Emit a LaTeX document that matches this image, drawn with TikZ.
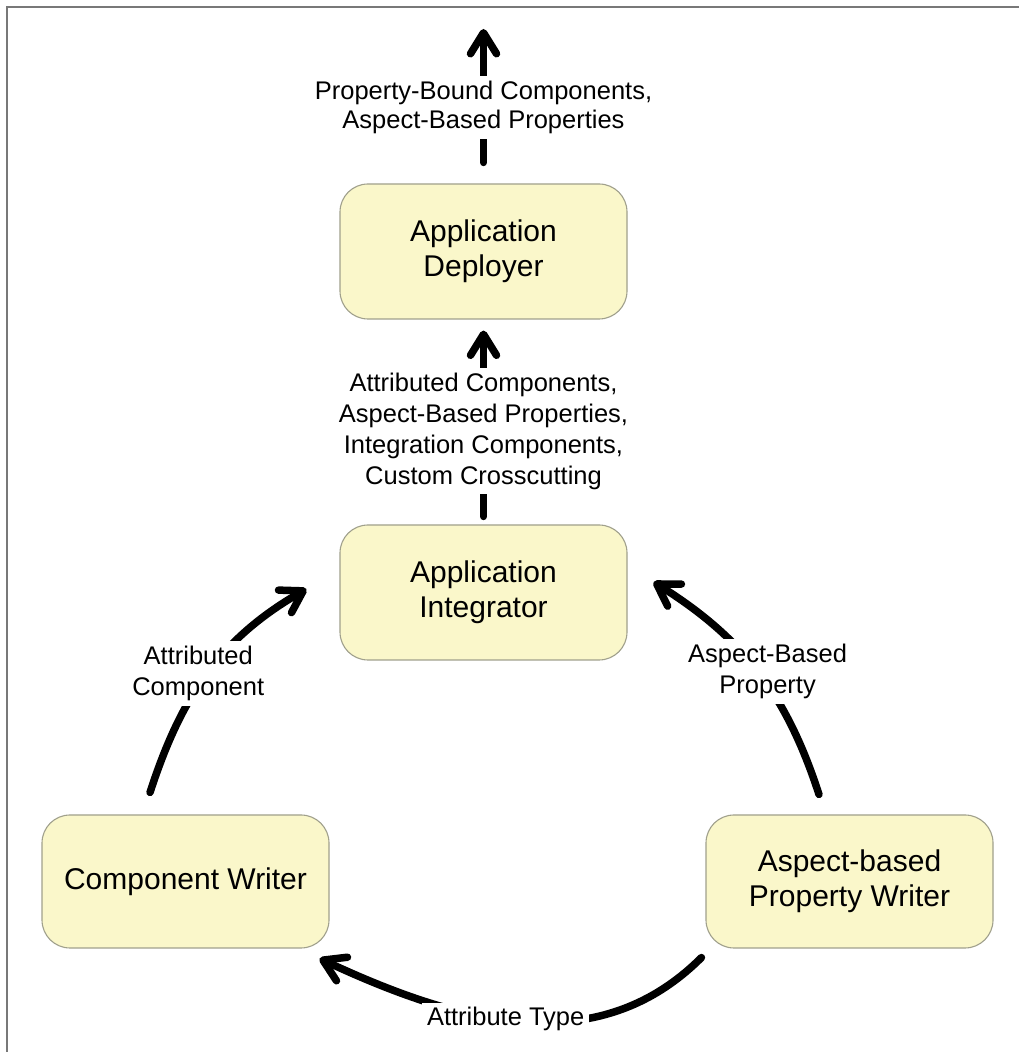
\documentclass[tikz,border=0pt]{standalone}
\usepackage{fontspec}
\setmainfont{Liberation Sans}
\usetikzlibrary{arrows.meta,calc}

\definecolor{boxfill}{RGB}{250,247,202}
\definecolor{boxline}{RGB}{160,160,140}
\definecolor{framegray}{RGB}{120,120,120}

\tikzset{
  role/.style={draw=boxline, line width=1.1pt, fill=boxfill,
    rounded corners=28pt, minimum width=287pt, minimum height=135pt,
    align=center, font=\fontsize{30}{35}\selectfont, inner sep=0pt},
  flow/.style={line width=7.5pt, line cap=round, line join=round,
    -{Straight Barb[round, length=21pt, width=26pt]}},
  tag/.style={fill=white, inner sep=5pt, align=center,
    font=\fontsize{25.5}{31}\selectfont},
}

\begin{document}
\begin{tikzpicture}[x=1pt,y=1pt]
  % page and frame
  \useasboundingbox (0,0) rectangle (1019,1052);
  \fill[white] (0,0) rectangle (1019,1052);
  \draw[framegray, line width=1.6pt] (7,0) -- (7,1045) -- (1019,1045);

  % roles
  \node[role] (dep) at (483.5,800.5) {Application\\Deployer};
  \node[role] (int) at (483.5,459.5) {Application\\Integrator};
  \node[role, minimum height=133pt] (cw)  at (185.5,170.5) {Component Writer};
  \node[role, minimum height=133pt] (apw) at (849.5,170.5) {Aspect-based\\Property Writer};

  \coordinate (out) at (483.5,1023);

  % deliveries up the chain
  \draw[flow] ([yshift=21pt]dep.north) -- (out)
    node[tag, pos=0.41, font=\fontsize{25.5}{29}\selectfont]
      {Property-Bound Components,\\Aspect-Based Properties};
  \draw[flow] ([yshift=8pt]int.north) -- ([yshift=-11pt]dep.south)
    node[tag, pos=0.46]
      {Attributed Components,\\Aspect-Based Properties,\\Integration Components,\\Custom Crosscutting};

  % the writing cycle
  \draw[flow] ([xshift=-35.5pt,yshift=22pt]cw.north)
    to[out=72,in=210]
      node[tag, pos=0.5, xshift=-9pt] {Attributed\\Component}
    ([xshift=-33pt,yshift=3.5pt]int.west);
  \draw[flow] ([xshift=-30.5pt,yshift=20pt]apw.north)
    to[out=108,in=328]
      node[tag, pos=0.5, xshift=10pt] {Aspect-Based\\Property}
    ([xshift=26pt,yshift=10.5pt]int.east);
  \draw[flow] ([xshift=-4pt,yshift=-9pt]apw.south west)
    to[out=225,in=335]
      node[tag, pos=0.5, xshift=-16pt, yshift=2pt] {Attribute Type}
    ([xshift=-10pt,yshift=-10pt]cw.south east);
\end{tikzpicture}
\end{document}
